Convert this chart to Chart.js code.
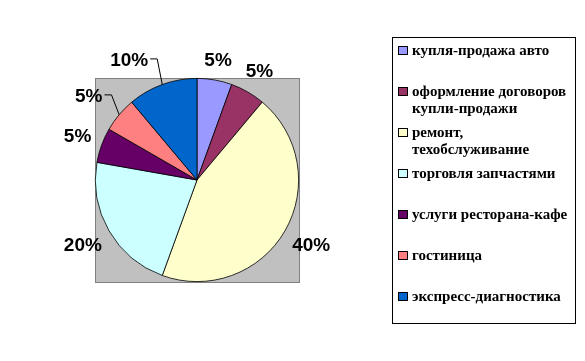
<!DOCTYPE html>
<html>
<head>
<meta charset="utf-8">
<script src="https://cdn.jsdelivr.net/npm/chart.js@4.4.1/dist/chart.umd.min.js"></script>
<style>
  html, body { margin: 0; padding: 0; background: #fff; }
  #wrap { width: 585px; height: 361px; }
</style>
</head>
<body>
<div id="wrap"><canvas id="myChart" width="585" height="361"></canvas></div>
<script>
// data
const categories = [
  "купля-продажа авто",
  ["оформление договоров", "купли-продажи"],
  ["ремонт,", "техобслуживание"],
  "торговля запчастями",
  "услуги ресторана-кафе",
  "гостиница",
  "экспресс-диагностика"
];
const shares = [5, 5, 40, 20, 5, 5, 10];
const sliceColors = ["#9999FF", "#993366", "#FFFFCC", "#CCFFFF", "#660066", "#FF8080", "#0066CC"];
// labels that Excel pushed sideways (with a leader line)
const labelNudge = [0, 0, 0, 0, 0, -11, -25];

// grey plot area behind the pie
const plotBg = {
  id: "plotBg",
  beforeDraw(chart) {
    const { ctx, chartArea: a } = chart;
    ctx.save();
    ctx.fillStyle = "#C0C0C0";
    ctx.fillRect(a.left, a.top, a.right - a.left, a.bottom - a.top + 1);
    ctx.strokeStyle = "#808080";
    ctx.lineWidth = 1;
    ctx.strokeRect(a.left + 0.5, a.top + 0.5, a.right - a.left, a.bottom - a.top);
    ctx.restore();
  }
};

// percentage labels outside the slices
const sliceLabels = {
  id: "sliceLabels",
  afterDatasetsDraw(chart) {
    const { ctx } = chart;
    const arcs = chart.getDatasetMeta(0).data;
    ctx.save();
    ctx.font = "bold 19px 'Liberation Sans', Arial, sans-serif";
    ctx.fillStyle = "#000";
    ctx.textAlign = "center";
    ctx.textBaseline = "middle";
    arcs.forEach((arc, i) => {
      const p = arc.getProps(["x", "y", "startAngle", "endAngle", "outerRadius"], true);
      const mid = (p.startAngle + p.endAngle) / 2;
      const dx = Math.cos(mid), dy = Math.sin(mid);
      const txt = shares[i] + "%";
      const w = ctx.measureText(txt).width, h = 15;
      const ext = Math.abs(dx) * w / 2 + Math.abs(dy) * h / 2;
      const d = p.outerRadius + 10 + ext;
      let x = p.x + dx * d, y = p.y + dy * d;
      if (labelNudge[i]) {
        const ex = p.x + dx * p.outerRadius, ey = p.y + dy * p.outerRadius;
        x += labelNudge[i];
        y -= 2;
        const lx = x + w / 2 + 2;
        ctx.strokeStyle = "#000";
        ctx.lineWidth = 1;
        ctx.beginPath();
        ctx.moveTo(lx, y - 1.5);
        ctx.lineTo(lx + 7, y - 1.5);
        ctx.lineTo(ex, ey);
        ctx.stroke();
      }
      ctx.fillText(txt, x, y);
    });
    ctx.restore();
  }
};

// boxed legend on the right, Excel style
const boxLegend = {
  id: "boxLegend",
  afterDraw(chart) {
    const { ctx } = chart;
    const bx = 392, by = 37, bw = 183, bh = 286;
    ctx.save();
    ctx.fillStyle = "#fff";
    ctx.fillRect(bx, by, bw, bh);
    ctx.strokeStyle = "#000";
    ctx.lineWidth = 1;
    ctx.strokeRect(bx + 0.5, by + 0.5, bw, bh);
    ctx.font = "bold 15px 'Liberation Serif', 'Times New Roman', serif";
    ctx.textBaseline = "middle";
    chart.data.labels.forEach((lab, i) => {
      const y = 50 + i * 41;
      ctx.fillStyle = sliceColors[i];
      ctx.fillRect(398, y - 4, 10, 9);
      ctx.strokeStyle = "#000";
      ctx.strokeRect(398.5, y - 3.5, 9, 8);
      ctx.fillStyle = "#000";
      const lines = Array.isArray(lab) ? lab : [lab];
      lines.forEach((t, k) => ctx.fillText(t, 412, y + 1 + k * 17));
    });
    ctx.restore();
  }
};

const ctx = document.getElementById("myChart").getContext("2d");
const myChart = new Chart(ctx, {
  type: "pie",
  data: {
    labels: categories,
    datasets: [{
      data: shares,
      backgroundColor: sliceColors,
      borderColor: "#000",
      borderWidth: 0.8
    }]
  },
  options: {
    responsive: false,
    animation: false,
    layout: { padding: { left: 95, right: 286, top: 78, bottom: 79 } },
    plugins: {
      legend: { display: false },
      tooltip: { enabled: false }
    }
  },
  plugins: [plotBg, sliceLabels, boxLegend]
});
</script>
</body>
</html>
